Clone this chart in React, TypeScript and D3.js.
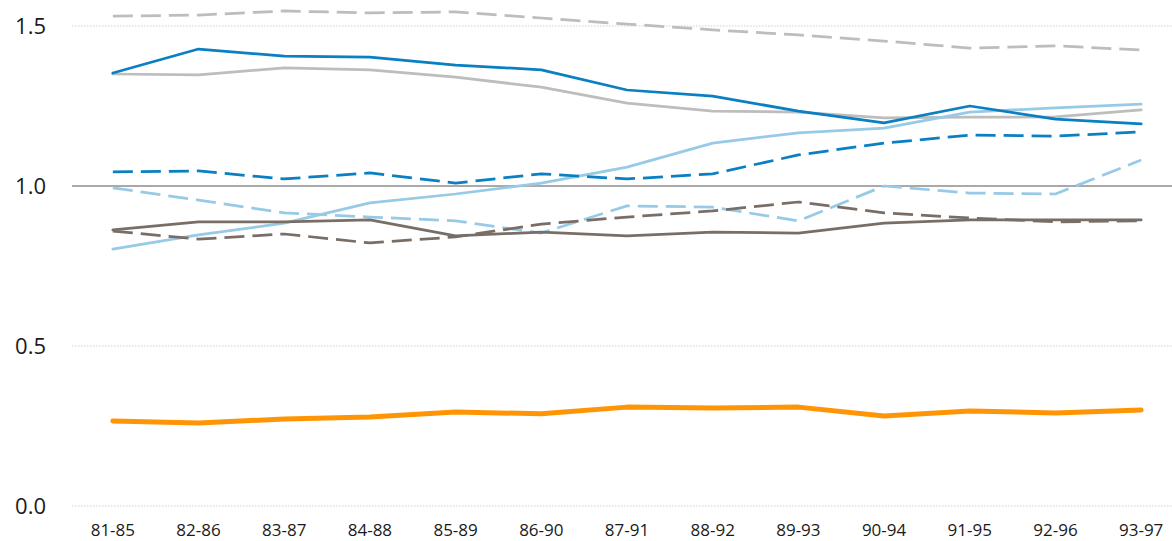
import React from "react";
import * as d3 from "d3";

const categories = ["81-85","82-86","83-87","84-88","85-89","86-90","87-91","88-92","89-93","90-94","91-95","92-96","93-97"];
const yTicks = [0, 0.5, 1.0, 1.5];

const grayDashed = [1.531,1.534,1.547,1.541,1.544,1.525,1.506,1.488,1.472,1.453,1.431,1.438,1.425];
const blueSolid = [1.353,1.428,1.406,1.403,1.378,1.363,1.300,1.281,1.234,1.197,1.250,1.209,1.194];
const graySolid = [1.350,1.347,1.369,1.363,1.340,1.309,1.259,1.234,1.231,1.213,1.215,1.216,1.238];
const lightBlueSolid = [0.803,0.847,0.884,0.947,0.975,1.009,1.059,1.134,1.166,1.181,1.231,1.244,1.256];
const blueDashed = [1.044,1.047,1.022,1.041,1.009,1.038,1.022,1.038,1.097,1.134,1.159,1.156,1.169];
const lightBlueDashed = [0.994,0.956,0.916,0.903,0.891,0.853,0.938,0.934,0.891,1.000,0.978,0.975,1.081];
const brownSolid = [0.863,0.888,0.888,0.894,0.844,0.856,0.844,0.856,0.853,0.884,0.894,0.894,0.894];
const brownDashed = [0.859,0.834,0.850,0.822,0.841,0.881,0.903,0.922,0.950,0.916,0.900,0.888,0.891];
const orange = [0.266,0.259,0.272,0.278,0.294,0.288,0.309,0.306,0.309,0.281,0.297,0.291,0.300];

const series = [
  { values: grayDashed, color: "#BDBDBD", width: 2.75, dash: "20,8" },
  { values: graySolid, color: "#BDBDBD", width: 2.75, dash: null },
  { values: lightBlueSolid, color: "#97CAE6", width: 2.75, dash: null },
  { values: lightBlueDashed, color: "#97CAE6", width: 2.75, dash: "20,8" },
  { values: brownSolid, color: "#796E66", width: 2.75, dash: null },
  { values: brownDashed, color: "#796E66", width: 2.75, dash: "20,8" },
  { values: blueDashed, color: "#0A7FC2", width: 2.75, dash: "20,8" },
  { values: blueSolid, color: "#0A7FC2", width: 2.75, dash: null },
  { values: orange, color: "#FF9505", width: 5, dash: null },
];

export default function App() {
  const W = 1172, H = 541;
  const x = d3.scaleBand<string>().domain(categories).range([70, 1184]);
  const y = d3.scaleLinear().domain([0, 1.5]).range([506, 26]);
  const cx = (c: string) => (x(c) ?? 0) + x.bandwidth() / 2;
  const line = d3.line<number>().x((_, i) => cx(categories[i])).y((d) => y(d));
  const font = "'Open Sans', sans-serif";
  return (
    <svg width={W} height={H} style={{ position: "absolute", left: 0, top: 0, background: "#fff" }} fontFamily={font}>
      {yTicks.map((t) => (
        <g key={t}>
          {t === 1.0 ? (
            <line x1={72} x2={W} y1={y(t)} y2={y(t)} stroke="#8C8C8C" strokeWidth={1.5} />
          ) : (
            <line x1={72} x2={W} y1={y(t)} y2={y(t)} stroke="#D0D0D0" strokeWidth={1.2} strokeDasharray="1.5,1.5" />
          )}
          <text x={46} y={y(t)} dy="0.36em" textAnchor="end" fontSize={22} fill="#1a1a1a">{t.toFixed(1)}</text>
        </g>
      ))}
      {series.map((s, i) => (
        <path key={i} d={line(s.values) ?? ""} fill="none" stroke={s.color} strokeWidth={s.width}
          strokeDasharray={s.dash ?? undefined} strokeLinejoin="round" strokeLinecap={s.dash ? "butt" : "round"} />
      ))}
      {categories.map((c) => (
        <text key={c} x={cx(c)} y={536} textAnchor="middle" fontSize={17} fill="#1a1a1a">{c}</text>
      ))}
    </svg>
  );
}
